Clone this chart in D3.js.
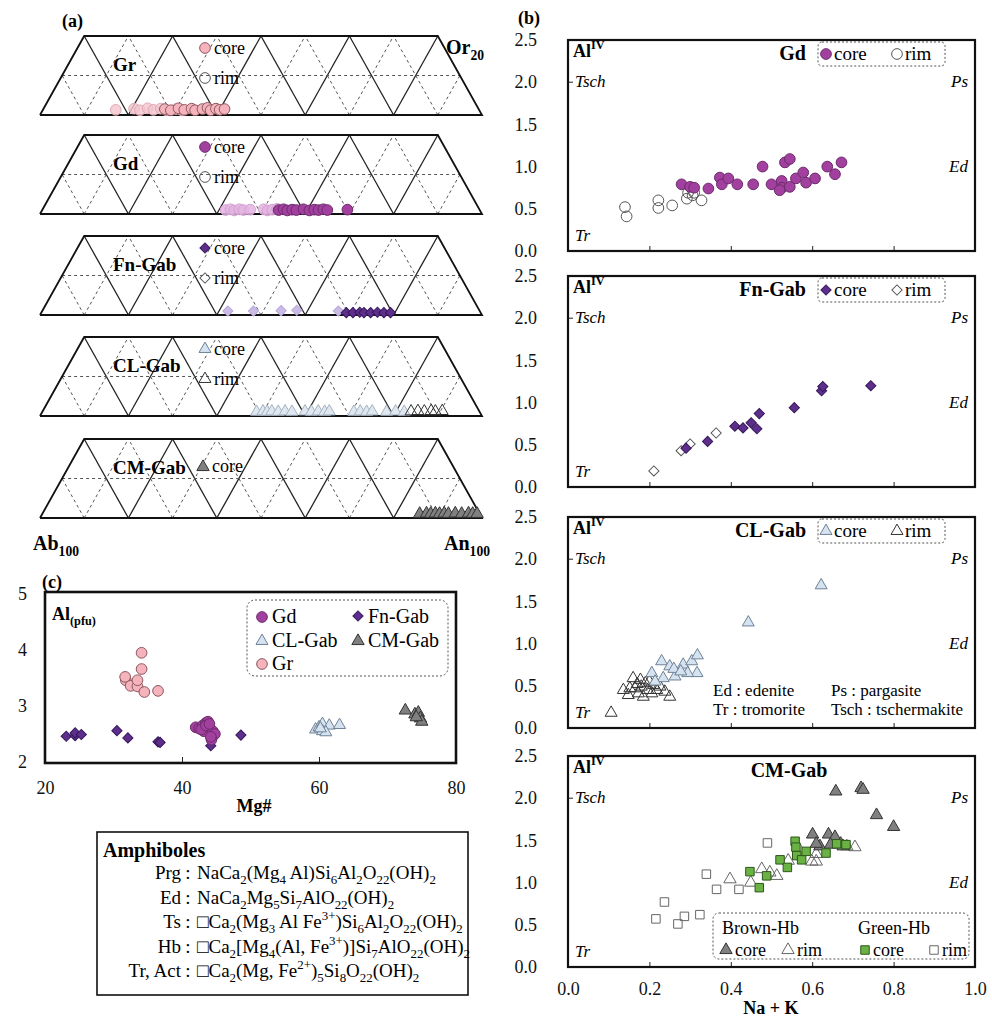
<!DOCTYPE html>
<html>
<head>
<meta charset="utf-8">
<script src="https://cdn.jsdelivr.net/npm/d3@7"></script>
<style>
  body { margin: 0; background: #fff; }
  svg, svg text { font-family: "Liberation Serif", "Times New Roman", Times, "DejaVu Serif", serif; }
</style>
</head>
<body>
<svg id="fig" width="992" height="1019"></svg>
<script>
// ---------------- data ----------------
// (a) feldspar ternary Ab-An-Or, points as [An, Or] fractions
const aGrRim   = [[0.165,0.013],[0.205,0.016],[0.22,0.012],[0.235,0.017],[0.25,0.013],[0.265,0.016],[0.28,0.012],[0.30,0.015],[0.315,0.012]];
const aGrCore  = [[0.275,0.015],[0.29,0.012],[0.305,0.017],[0.32,0.013],[0.335,0.016],[0.345,0.012],[0.36,0.015],[0.37,0.018],[0.38,0.012],[0.39,0.016],[0.40,0.013],[0.41,0.015]];
const aGdRim   = [[0.415,0.010],[0.425,0.012],[0.435,0.009],[0.445,0.012],[0.455,0.010],[0.47,0.011],[0.50,0.012],[0.51,0.009],[0.52,0.011],[0.53,0.013]];
const aGdCore  = [[0.535,0.010],[0.545,0.012],[0.555,0.009],[0.565,0.011],[0.575,0.010],[0.59,0.012],[0.605,0.009],[0.615,0.011],[0.625,0.010],[0.635,0.012],[0.645,0.010],[0.69,0.011]];
const aFnRim   = [[0.42,0.010],[0.478,0.010],[0.54,0.011],[0.575,0.012],[0.67,0.010]];
const aFnCore  = [[0.69,0.006],[0.705,0.006],[0.72,0.007],[0.73,0.006],[0.745,0.006],[0.76,0.007],[0.775,0.006],[0.79,0.006]];
const aClCore  = [[0.486,0.008],[0.50,0.009],[0.51,0.008],[0.52,0.009],[0.535,0.008],[0.55,0.009],[0.566,0.008],[0.595,0.009],[0.61,0.008],[0.625,0.009],[0.64,0.008],[0.65,0.009],[0.706,0.008],[0.72,0.009],[0.735,0.008],[0.747,0.009],[0.78,0.008],[0.80,0.009],[0.82,0.008]];
const aClRim   = [[0.835,0.009],[0.85,0.010],[0.865,0.009],[0.88,0.010],[0.89,0.009],[0.905,0.010]];
const aCmCore  = [[0.855,0.008],[0.87,0.009],[0.88,0.008],[0.89,0.009],[0.90,0.008],[0.91,0.009],[0.92,0.008],[0.935,0.009],[0.95,0.008],[0.965,0.009],[0.975,0.008],[0.985,0.008]];

// (b) Na+K vs AlIV, points as [Na+K, AlIV]
const bGdRim   = [[0.14,0.52],[0.144,0.41],[0.222,0.60],[0.222,0.51],[0.256,0.54],[0.292,0.62],[0.306,0.66],[0.328,0.60],[0.295,0.69],[0.31,0.69]];
const bGdCore  = [[0.279,0.79],[0.30,0.76],[0.31,0.75],[0.345,0.74],[0.373,0.87],[0.378,0.79],[0.394,0.86],[0.416,0.79],[0.455,0.79],[0.478,1.0],[0.50,0.79],[0.525,0.83],[0.526,0.75],[0.533,1.05],[0.545,1.09],[0.545,0.76],[0.56,0.86],[0.578,0.93],[0.585,0.81],[0.607,0.86],[0.637,1.0],[0.656,0.91],[0.672,1.05],[0.52,0.72]];
const bFnRim   = [[0.211,0.19],[0.278,0.43],[0.30,0.51],[0.364,0.64]];
const bFnCore  = [[0.29,0.46],[0.343,0.54],[0.41,0.72],[0.43,0.70],[0.45,0.76],[0.464,0.69],[0.47,0.87],[0.556,0.94],[0.623,1.14],[0.626,1.19],[0.744,1.20]];
const bClCore  = [[0.23,0.79],[0.25,0.73],[0.283,0.75],[0.304,0.79],[0.318,0.86],[0.317,0.65],[0.294,0.65],[0.263,0.61],[0.234,0.59],[0.206,0.65],[0.26,0.70],[0.214,0.55],[0.277,0.67],[0.443,1.25],[0.622,1.69]];
const bClRim   = [[0.106,0.18],[0.136,0.45],[0.148,0.39],[0.16,0.59],[0.165,0.47],[0.173,0.41],[0.18,0.49],[0.185,0.37],[0.19,0.53],[0.196,0.45],[0.206,0.41],[0.21,0.51],[0.218,0.45],[0.226,0.49],[0.238,0.43],[0.25,0.37],[0.178,0.57],[0.152,0.47],[0.20,0.55],[0.17,0.52]];
const bBrownCore = [[0.658,2.08],[0.72,2.12],[0.725,2.10],[0.758,1.80],[0.80,1.66],[0.601,1.57],[0.64,1.57],[0.656,1.54],[0.676,1.43],[0.619,1.43],[0.61,1.46],[0.645,1.45],[0.67,1.46]];
const bBrownRim  = [[0.398,1.04],[0.449,1.0],[0.476,1.16],[0.496,1.12],[0.513,1.08],[0.541,1.26],[0.599,1.25],[0.61,1.25],[0.61,1.34],[0.685,1.43],[0.705,1.42],[0.57,1.38]];
const bGreenCore = [[0.447,1.13],[0.47,0.94],[0.488,1.08],[0.521,1.27],[0.539,1.18],[0.558,1.49],[0.56,1.42],[0.562,1.32],[0.574,1.27],[0.585,1.37],[0.634,1.35],[0.66,1.46],[0.683,1.45]];
const bGreenRim  = [[0.216,0.57],[0.237,0.77],[0.27,0.51],[0.286,0.60],[0.324,0.62],[0.34,1.10],[0.365,0.92],[0.42,0.92],[0.49,1.47]];

// (c) Mg# vs Al(pfu)
const cGd  = [[42,2.62],[42.5,2.6],[43,2.65],[43.5,2.7],[43.8,2.72],[44,2.6],[43.2,2.55],[44.5,2.55],[44.8,2.5],[44.3,2.4],[44.2,2.45],[42.8,2.58],[43.5,2.65],[44,2.68]];
const cFn  = [[23.1,2.46],[24.4,2.47],[24.4,2.52],[25.3,2.49],[30.5,2.56],[32.1,2.43],[36.5,2.36],[36.8,2.35],[44.2,2.29],[48.6,2.48]];
const cCl  = [[59.5,2.58],[60,2.62],[60.5,2.68],[61.5,2.65],[63,2.66],[60.5,2.55],[61,2.53],[60.2,2.6]];
const cCm  = [[72.6,2.92],[74,2.85],[74.5,2.88],[74.8,2.78],[75,2.72],[74.2,2.8]];
const cGr  = [[34.1,3.95],[34.1,3.66],[31.8,3.46],[31.7,3.52],[32.5,3.36],[33.5,3.35],[33.5,3.46],[34.5,3.25],[36.5,3.27]];

// tick values and text labels
const bYTicks = [0, 0.5, 1.0, 1.5, 2.0, 2.5];
const bXTicks = [0, 0.2, 0.4, 0.6, 0.8, 1.0];
const cYTicks = [2, 3, 4, 5];
const cXTicks = [20, 40, 60, 80];
const amphNames = ["Prg", "Ed", "Ts", "Hb", "Tr, Act"];
const amphFormulas = [
  "NaCa_{2}(Mg_{4} Al)Si_{6}Al_{2}O_{22}(OH)_{2}",
  "NaCa_{2}Mg_{5}Si_{7}AlO_{22}(OH)_{2}",
  "\u25A1Ca_{2}(Mg_{3} Al Fe^{3+})Si_{6}Al_{2}O_{22}(OH)_{2}",
  "\u25A1Ca_{2}[Mg_{4}(Al, Fe^{3+})]Si_{7}AlO_{22}(OH)_{2}",
  "\u25A1Ca_{2}(Mg, Fe^{2+})_{5}Si_{8}O_{22}(OH)_{2}"
];

const SERIF = '"Liberation Serif", "Times New Roman", Times, "DejaVu Serif", serif';

// ---------------- styles ----------------
const st = {
  grCore:  {type: d3.symbolCircle, size: 90, fill: "#f5b3bb", stroke: "#8c5860"},
  grRim:   {type: d3.symbolCircle, size: 90, fill: "#f3c4cc", stroke: "#e0a8b2", fo: 0.8},
  gdCore:  {type: d3.symbolCircle, size: 90, fill: "#a2409f", stroke: "#6d2a6b"},
  gdRimA:  {type: d3.symbolCircle, size: 90, fill: "#e3b4e0", stroke: "#d4a0d2", fo: 0.85},
  open:    {type: d3.symbolCircle, size: 90, fill: "none", stroke: "#555"},
  fnCore:  {type: d3.symbolSquare, size: 52, rot: 45, fill: "#5d2e8c", stroke: "#36185a"},
  fnRimA:  {type: d3.symbolSquare, size: 52, rot: 45, fill: "#cbbce6", stroke: "#b9a8dc"},
  fnOpen:  {type: d3.symbolSquare, size: 52, rot: 45, fill: "none", stroke: "#555"},
  clCore:  {type: d3.symbolTriangle, size: 62, fill: "#d5e2ef", stroke: "#6f8296"},
  clCoreA: {type: d3.symbolTriangle, size: 62, fill: "#dfe8f1", stroke: "#a5b2c0"},
  clRim:   {type: d3.symbolTriangle, size: 62, fill: "none", stroke: "#333"},
  cmCore:  {type: d3.symbolTriangle, size: 66, fill: "#808080", stroke: "#333"},
  cmRim:   {type: d3.symbolTriangle, size: 66, fill: "none", stroke: "#666"},
  grnCore: {type: d3.symbolSquare, size: 72, fill: "#6ab244", stroke: "#2e561b"},
  grnRim:  {type: d3.symbolSquare, size: 72, fill: "none", stroke: "#666"}
};

const svg = d3.select("#fig");

// draw a set of points through two scales
function drawPts(g, data, sx, sy, s) {
  g.append("g").selectAll("path").data(data).join("path")
    .attr("transform", d => `translate(${sx(d)},${sy(d)})` + (s.rot ? ` rotate(${s.rot})` : ""))
    .attr("d", d3.symbol(s.type, s.size))
    .attr("fill", s.fill)
    .attr("fill-opacity", s.fo == null ? 1 : s.fo)
    .attr("stroke", s.stroke)
    .attr("stroke-width", 1);
}

// single legend marker
function marker(g, x, y, s) {
  drawPts(g, [[x, y]], d => d[0], d => d[1], s);
}

// text with _{sub} and ^{sup}
function rich(t, str, fs) {
  const re = /([_^])\{([^}]*)\}|([^_^]+)/g;
  let m, cur = 0;
  while ((m = re.exec(str))) {
    let off = 0, txt = m[3], size = null;
    if (!m[3]) { off = m[1] === "_" ? fs * 0.28 : -fs * 0.42; txt = m[2]; size = fs * 0.68; }
    const sp = t.append("tspan").attr("dy", off - cur).text(txt);
    if (size) sp.attr("font-size", size);
    cur = off;
  }
  return t;
}

function label(x, y, str, opts = {}) {
  const fs = opts.size || 17;
  const t = svg.append("text")
    .attr("x", x).attr("y", y)
    .attr("font-family", SERIF)
    .attr("font-size", fs)
    .attr("font-weight", opts.bold ? "bold" : null)
    .attr("font-style", opts.italic ? "italic" : null)
    .attr("text-anchor", opts.anchor || "start");
  return rich(t, str, fs);
}

function styleAxis(a) {
  a.attr("font-family", SERIF);
  a.select(".domain").remove();
  a.selectAll("line").attr("stroke", "#222");
  a.selectAll("text").attr("font-size", 18).attr("font-family", SERIF).attr("fill", "#111");
}

// ---------------- (a) ternary strips ----------------
const triX = d3.scaleLinear().domain([0, 1]).range([40, 482]);
const triTops = [36, 135, 236, 337, 439];
const triH = 79;

const triSets = [
  {name: "Gr", sets: [[aGrRim, st.grRim], [aGrCore, st.grCore]], leg: [st.grCore, st.open]},
  {name: "Gd", sets: [[aGdRim, st.gdRimA], [aGdCore, st.gdCore]], leg: [st.gdCore, st.open]},
  {name: "Fn-Gab", sets: [[aFnRim, st.fnRimA], [aFnCore, st.fnCore]], leg: [st.fnCore, st.fnOpen]},
  {name: "CL-Gab", sets: [[aClCore, st.clCoreA], [aClRim, st.clRim]], leg: [st.clCore, st.clRim]},
  {name: "CM-Gab", sets: [[aCmCore, st.cmCore]], leg: [st.cmCore]}
];

triSets.forEach((t, i) => {
  const top = triTops[i];
  const y = d3.scaleLinear().domain([0, 0.2]).range([top + triH, top]);
  const g = svg.append("g");
  const P = (an, or) => [triX(an + or / 2), y(or)];
  const seg = (a, b, dashed, w) => g.append("line")
    .attr("x1", a[0]).attr("y1", a[1]).attr("x2", b[0]).attr("y2", b[1])
    .attr("stroke", dashed ? "#555" : "#222")
    .attr("stroke-width", w)
    .attr("stroke-dasharray", dashed ? "3,3" : null);

  // grid: constant An and constant Ab lines every 10 %
  d3.range(1, 10).forEach(k => {
    const v = k / 10, dashed = k % 2 === 1;
    seg(P(v, 0), P(v, Math.min(0.2, 1 - v)), dashed, dashed ? 1 : 1.3);
    seg(P(v, 0), P(Math.max(0, v - 0.2), Math.min(0.2, v)), dashed, dashed ? 1 : 1.3);
  });
  seg(P(0, 0.1), P(0.9, 0.1), true, 1);
  // outline
  g.append("path")
    .attr("d", d3.line()([P(0, 0), P(1, 0), P(0.8, 0.2), P(0, 0.2), P(0, 0)]))
    .attr("fill", "none").attr("stroke", "#111").attr("stroke-width", 1.8);

  t.sets.forEach(([data, s]) => drawPts(g, data, d => P(d[0], d[1])[0], d => P(d[0], d[1])[1] - (s.type === d3.symbolTriangle ? 1 : 0), s));

  label(113, top + 35, t.name, {bold: true, size: 19});
  if (t.leg.length === 2) {
    marker(svg, 205, top + 12, t.leg[0]);
    label(214, top + 18, "core", {size: 18});
    marker(svg, 205, top + 42, t.leg[1]);
    label(214, top + 48, "rim", {size: 18});
  } else {
    marker(svg, 203, top + 28, t.leg[0]);
    label(212, top + 33, "core", {size: 18});
  }
});

label(62, 27, "(a)", {bold: true, size: 18});
label(446, 54, "Or_{20}", {bold: true, size: 20});
label(33, 550, "Ab_{100}", {bold: true, size: 20});
label(444, 550, "An_{100}", {bold: true, size: 20});

// ---------------- (b) Na+K vs AlIV ----------------
const bx = d3.scaleLinear().domain([0, 1]).range([568, 975]);
const bTops = [40, 276, 517, 756];
const bH = 211;

const bPanels = [
  {name: "Gd", sets: [[bGdRim, st.open], [bGdCore, st.gdCore]], leg: [st.gdCore, st.open]},
  {name: "Fn-Gab", sets: [[bFnRim, st.fnOpen], [bFnCore, st.fnCore]], leg: [st.fnCore, st.fnOpen]},
  {name: "CL-Gab", sets: [[bClRim, st.clRim], [bClCore, st.clCore]], leg: [st.clCore, st.clRim]},
  {name: "CM-Gab", sets: [[bGreenRim, st.grnRim], [bBrownRim, st.cmRim], [bBrownCore, st.cmCore], [bGreenCore, st.grnCore]]}
];

bPanels.forEach((p, i) => {
  const top = bTops[i];
  const by = d3.scaleLinear().domain([0, 2.5]).range([top + bH, top]);
  const g = svg.append("g");

  g.append("g")
    .attr("transform", `translate(${bx(0)},0)`)
    .call(d3.axisLeft(by).tickValues(bYTicks).tickSize(0).tickPadding(31).tickFormat(d3.format(".1f")))
    .call(styleAxis);

  const last = i === bPanels.length - 1;
  g.append("g")
    .attr("transform", `translate(0,${top + bH})`)
    .call(d3.axisBottom(bx).tickValues(last ? bXTicks : bXTicks.slice(1, 5)).tickSizeInner(-5).tickSizeOuter(0)
      .tickPadding(15).tickFormat(last ? d3.format(".1f") : ""))
    .call(styleAxis);

  // tick at 2.0 beside Tsch
  g.append("line").attr("x1", bx(0)).attr("x2", bx(0) + 5).attr("y1", by(2)).attr("y2", by(2)).attr("stroke", "#222");

  p.sets.forEach(([data, s]) => drawPts(g, data, d => bx(d[0]), d => by(d[1]), s));

  g.append("rect")
    .attr("x", bx(0)).attr("y", top).attr("width", bx(1) - bx(0)).attr("height", bH)
    .attr("fill", "none").attr("stroke", "#111").attr("stroke-width", 2.2);

  label(573, top + 17, "Al^{IV}", {bold: true, size: 18});
  label(575, by(2) + 5, "Tsch", {italic: true, size: 17});
  label(968, by(2) + 5, "Ps", {italic: true, size: 17, anchor: "end"});
  label(968, by(1) + 5, "Ed", {italic: true, size: 17, anchor: "end"});
  label(575, top + bH - 10, "Tr", {italic: true, size: 17});

  if (p.leg) {
    label(806, top + 20, p.name, {bold: true, size: 20, anchor: "end"});
    svg.append("rect")
      .attr("x", 818).attr("y", top + 2).attr("width", 127).attr("height", 24).attr("rx", 4)
      .attr("fill", "none").attr("stroke", "#555").attr("stroke-dasharray", "2,2");
    marker(svg, 826, top + 14, p.leg[0]);
    label(834, top + 20, "core", {size: 19});
    marker(svg, 897, top + 14, p.leg[1]);
    label(905, top + 20, "rim", {size: 19});
  } else {
    label(789, top + 21, p.name, {bold: true, size: 20, anchor: "middle"});
  }
});

// abbreviations in CL-Gab panel
label(713, 696, "Ed : edenite", {size: 17});
label(831, 696, "Ps : pargasite", {size: 17});
label(713, 715, "Tr : tromorite", {size: 17});
label(831, 715, "Tsch : tschermakite", {size: 17});

// CM-Gab legend
svg.append("rect")
  .attr("x", 713).attr("y", 913).attr("width", 256).attr("height", 46).attr("rx", 6)
  .attr("fill", "none").attr("stroke", "#555").attr("stroke-dasharray", "2,2");
label(722, 934, "Brown-Hb", {size: 18});
label(858, 934, "Green-Hb", {size: 18});
marker(svg, 726, 950, st.cmCore);   label(735, 956, "core", {size: 18});
marker(svg, 788, 950, st.cmRim);    label(797, 956, "rim", {size: 18});
marker(svg, 865, 950, st.grnCore);  label(873, 956, "core", {size: 18});
marker(svg, 934, 950, st.grnRim);   label(942, 956, "rim", {size: 18});

label(518, 24, "(b)", {bold: true, size: 18});
label(771, 1014, "Na + K", {bold: true, size: 18, anchor: "middle"});

// ---------------- (c) Mg# vs Al ----------------
const cx = d3.scaleLinear().domain([20, 80]).range([45, 456]);
const cy = d3.scaleLinear().domain([2, 5]).range([762, 594]);
const gc = svg.append("g");

gc.append("g")
  .attr("transform", `translate(${cx(20)},0)`)
  .call(d3.axisLeft(cy).tickValues(cYTicks).tickSize(0).tickPadding(18).tickFormat(d3.format("d")))
  .call(styleAxis);

gc.append("g")
  .attr("transform", `translate(0,${cy(2)})`)
  .call(d3.axisBottom(cx).tickValues(cXTicks).tickSizeInner(-5).tickSizeOuter(0).tickPadding(19).tickFormat(d3.format("d")))
  .call(styleAxis);

const cPx = d => cx(d[0]), cPy = d => cy(d[1]);
drawPts(gc, cGr, cPx, cPy, st.grCore);
drawPts(gc, cFn, cPx, cPy, st.fnCore);
drawPts(gc, cGd, cPx, cPy, st.gdCore);
drawPts(gc, cCl, cPx, cPy, st.clCore);
drawPts(gc, cCm, cPx, cPy, st.cmCore);

gc.append("rect")
  .attr("x", 45).attr("y", 592).attr("width", 411).attr("height", 171)
  .attr("fill", "none").attr("stroke", "#111").attr("stroke-width", 2.6);

label(42, 588, "(c)", {bold: true, size: 18});
label(52, 620, "Al_{(pfu)}", {bold: true, size: 18});
label(254, 812, "Mg#", {bold: true, size: 18, anchor: "middle"});

gc.append("rect")
  .attr("x", 247).attr("y", 600).attr("width", 201).attr("height", 76).attr("rx", 8)
  .attr("fill", "none").attr("stroke", "#555").attr("stroke-dasharray", "2,2");
marker(svg, 262, 617, st.gdCore);  label(272, 623, "Gd", {size: 20});
marker(svg, 358, 616, st.fnCore);  label(368, 623, "Fn-Gab", {size: 20});
marker(svg, 262, 641, st.clCore);  label(272, 647, "CL-Gab", {size: 20});
marker(svg, 358, 641, st.cmCore);  label(368, 647, "CM-Gab", {size: 20});
marker(svg, 262, 664, st.grCore);  label(272, 670, "Gr", {size: 20});

// ---------------- amphibole formula box ----------------
svg.append("rect")
  .attr("x", 97).attr("y", 832).attr("width", 371).attr("height", 163)
  .attr("fill", "none").attr("stroke", "#111").attr("stroke-width", 1.6);
label(103, 857, "Amphiboles", {bold: true, size: 20});
amphNames.forEach((n, i) => {
  const yy = 879 + i * 24.5;
  label(181, yy, n, {size: 19, anchor: "end"});
  label(188, yy, ":", {size: 19, anchor: "middle"});
  label(197, yy, amphFormulas[i], {size: 19});
});
</script>
</body>
</html>
